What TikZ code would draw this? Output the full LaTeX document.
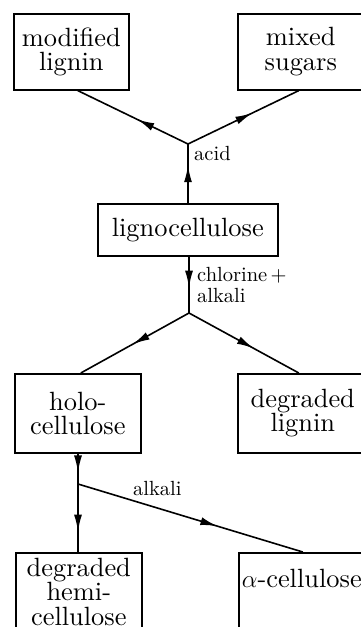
\documentclass[tikz,border=0pt]{standalone}
\usepackage{fontspec}
\usetikzlibrary{arrows.meta,decorations.markings,calc}
% Latin Modern 10pt design, scaled up, for a sturdier stroke
\newfontfamily\lmten{lmroman10-regular.otf}
\newcommand\bxfont{\lmten\fontsize{26.4}{24.5}\selectfont}
\newcommand\lblfont{\lmten\fontsize{20.5}{21}\selectfont}
\tikzset{
  box/.style={draw, line width=1.6pt, inner sep=0pt, align=center, font=\bxfont, anchor=north west},
  lbl/.style={inner sep=0pt, font=\lblfont, align=left},
  flow/.style={line width=1.6pt},
  midarrow/.style={postaction={decorate},
    decoration={markings, mark=at position #1 with {\arrow{Latex[length=17pt,width=8pt]}}}}
}
\begin{document}
\begin{tikzpicture}[x=1pt,y=-1pt]
\clip (0,0) rectangle (361,627);
\fill[white] (0,0) rectangle (361,627);

% boxes
\node[box, minimum width=115pt, minimum height=76pt] (ml) at (13,13) {modified\\lignin};
\node[box, minimum width=126pt, minimum height=76pt] (ms) at (237,13) {mixed\\sugars};
\node[box, minimum width=180pt, minimum height=52pt] (lc) at (97,203) {lignocellulose};
\node[box, minimum width=126pt, minimum height=79pt] (holo) at (14,373) {holo-\\cellulose};
\node[box, minimum width=130pt, minimum height=79pt] (dl) at (237,373) {degraded\\lignin};
\node[box, minimum width=126pt, minimum height=78pt] (dhc) at (15,552) {degraded\\hemi-\\cellulose};
\node[box, minimum width=126pt, minimum height=100pt, text height=18.3pt, text depth=48.3pt] (ac) at (238,552) {$\alpha$-cellulose};

% branch points
\coordinate (j1) at (188,144);
\coordinate (j2) at (189,313);
\coordinate (j3) at (78,484);

% acid treatment
\draw[flow, midarrow=0.64] (lc.north -| j1) -- (j1);
\draw[flow, midarrow=0.46] (j1) -- ([xshift=6.5pt]ml.south);
\draw[flow, midarrow=0.58] (j1) -- ([xshift=-2pt]ms.south);
\node[lbl, anchor=west] (lacid) at (194,153) {acid};

% chlorine + alkali treatment
\draw[flow, midarrow=0.55] (lc.south -| j2) -- (j2);
\draw[flow, midarrow=0.52] (j2) -- ([xshift=3pt]holo.north);
\draw[flow, midarrow=0.59] (j2) -- ([xshift=-4pt]dl.north);
\node[lbl, anchor=north west] (lchl) at (197,267.5) {chlorine\,+\\alkali};

% alkali extraction
\draw[flow, midarrow=0.62] (holo.south -| j3) -- (j3);
\draw[flow, midarrow=0.7] (j3) -- (dhc.north -| j3);
\draw[flow, midarrow=0.62] (j3) -- ([xshift=1pt]ac.north);
\node[lbl, anchor=base west] (lalk) at (133,495) {alkali};
\end{tikzpicture}
\end{document}
